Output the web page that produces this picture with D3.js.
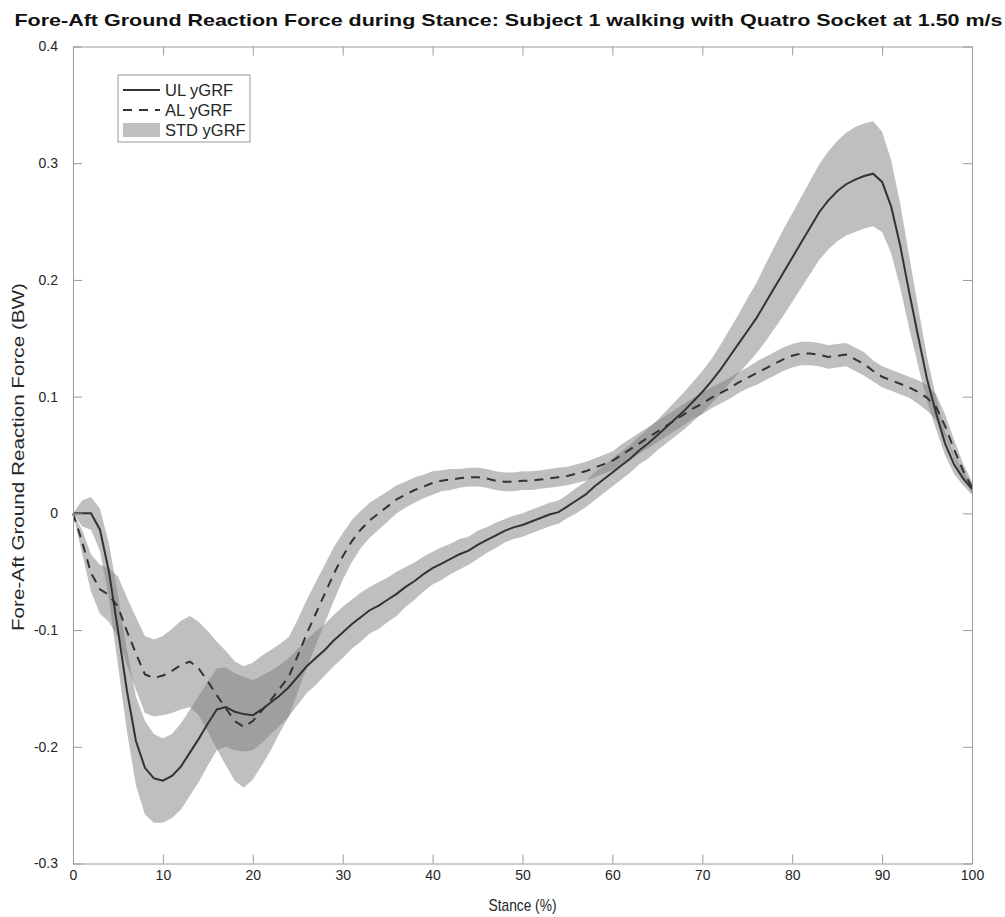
<!DOCTYPE html>
<html>
<head>
<meta charset="utf-8">
<script src="https://cdn.jsdelivr.net/npm/d3@7"></script>
<style>
    body { margin: 0; background: #fff; }
    text { font-family: "Liberation Sans", Helvetica, Arial, sans-serif; fill: #262626; }
</style>
</head>
<body>
<div id="figure"></div>
<script>
(function () {
    'use strict';

    // stance in %, one sample per percent
    let stance = d3.range(0, 101);

    // UL yGRF mean (BW)
    let ulMean = [
        0, 0, 0, -0.014, -0.050, -0.100, -0.152, -0.195, -0.218, -0.227,
        -0.229, -0.225, -0.217, -0.205, -0.193, -0.180, -0.168, -0.166, -0.170, -0.172,
        -0.173, -0.168, -0.162, -0.156, -0.149, -0.140, -0.131, -0.124, -0.117, -0.109,
        -0.102, -0.095, -0.089, -0.083, -0.079, -0.074, -0.069, -0.063, -0.058, -0.052,
        -0.047, -0.043, -0.039, -0.035, -0.032, -0.027, -0.023, -0.019, -0.015, -0.012,
        -0.010, -0.007, -0.004, -0.001, 0.001, 0.006, 0.011, 0.016, 0.023, 0.029,
        0.035, 0.041, 0.047, 0.054, 0.060, 0.067, 0.074, 0.081, 0.088, 0.096,
        0.104, 0.113, 0.123, 0.134, 0.145, 0.156, 0.167, 0.180, 0.193, 0.206,
        0.219, 0.232, 0.245, 0.258, 0.268, 0.276, 0.282, 0.286, 0.289, 0.291,
        0.284, 0.263, 0.230, 0.190, 0.152, 0.115, 0.086, 0.060, 0.042, 0.030,
        0.021
    ];
    let ulStd = [
        0, 0.011, 0.014, 0.018, 0.024, 0.030, 0.035, 0.038, 0.040, 0.038,
        0.036, 0.036, 0.037, 0.037, 0.037, 0.036, 0.035, 0.034, 0.033, 0.032,
        0.030, 0.029, 0.027, 0.026, 0.025, 0.024, 0.023, 0.023, 0.022, 0.022,
        0.022, 0.021, 0.021, 0.020, 0.020, 0.019, 0.019, 0.017, 0.016, 0.015,
        0.014, 0.014, 0.013, 0.013, 0.012, 0.012, 0.011, 0.011, 0.010, 0.010,
        0.010, 0.010, 0.010, 0.010, 0.010, 0.010, 0.011, 0.011, 0.012, 0.012,
        0.012, 0.012, 0.012, 0.012, 0.013, 0.013, 0.014, 0.015, 0.016, 0.017,
        0.018, 0.019, 0.021, 0.023, 0.025, 0.028, 0.030, 0.033, 0.035, 0.037,
        0.038, 0.039, 0.040, 0.041, 0.042, 0.043, 0.044, 0.045, 0.045, 0.045,
        0.043, 0.040, 0.036, 0.031, 0.025, 0.019, 0.014, 0.010, 0.008, 0.006,
        0.005
    ];

    // AL yGRF mean (BW)
    let alMean = [
        0, -0.024, -0.051, -0.065, -0.070, -0.080, -0.101, -0.120, -0.138, -0.141,
        -0.139, -0.135, -0.130, -0.127, -0.133, -0.144, -0.156, -0.167, -0.178, -0.183,
        -0.178, -0.169, -0.160, -0.150, -0.140, -0.122, -0.103, -0.086, -0.069, -0.052,
        -0.037, -0.024, -0.014, -0.006, 0.000, 0.006, 0.012, 0.016, 0.020, 0.023,
        0.026, 0.028, 0.029, 0.030, 0.031, 0.031, 0.030, 0.028, 0.027, 0.027,
        0.028, 0.028, 0.029, 0.030, 0.031, 0.032, 0.034, 0.036, 0.039, 0.042,
        0.045, 0.050, 0.055, 0.060, 0.065, 0.070, 0.075, 0.080, 0.085, 0.090,
        0.094, 0.099, 0.103, 0.107, 0.112, 0.116, 0.120, 0.124, 0.128, 0.132,
        0.135, 0.137, 0.137, 0.136, 0.134, 0.135, 0.136, 0.132, 0.128, 0.122,
        0.117, 0.114, 0.111, 0.108, 0.104, 0.099, 0.091, 0.075, 0.055, 0.037,
        0.022
    ];
    let alStd = [
        0, 0.010, 0.016, 0.021, 0.023, 0.026, 0.029, 0.031, 0.033, 0.033,
        0.034, 0.036, 0.038, 0.039, 0.040, 0.043, 0.046, 0.049, 0.051, 0.052,
        0.050, 0.047, 0.043, 0.038, 0.034, 0.031, 0.029, 0.027, 0.025, 0.023,
        0.020, 0.018, 0.016, 0.015, 0.014, 0.013, 0.012, 0.011, 0.011, 0.010,
        0.010, 0.009, 0.009, 0.008, 0.008, 0.008, 0.008, 0.008, 0.008, 0.008,
        0.008, 0.008, 0.008, 0.008, 0.008, 0.008, 0.008, 0.008, 0.008, 0.008,
        0.008, 0.009, 0.009, 0.009, 0.009, 0.009, 0.009, 0.009, 0.009, 0.009,
        0.009, 0.009, 0.009, 0.009, 0.009, 0.009, 0.010, 0.010, 0.010, 0.010,
        0.010, 0.010, 0.010, 0.010, 0.010, 0.010, 0.010, 0.010, 0.010, 0.009,
        0.009, 0.009, 0.009, 0.009, 0.010, 0.011, 0.011, 0.010, 0.008, 0.006,
        0.005
    ];

    let xTicks = [0, 10, 20, 30, 40, 50, 60, 70, 80, 90, 100];
    let yTicks = [-0.3, -0.2, -0.1, 0, 0.1, 0.2, 0.3, 0.4];
    let legendLabels = ['UL yGRF', 'AL yGRF', 'STD yGRF'];

    let width = 1005;
    let height = 917;
    let margin = { left: 73, right: 33, top: 46.5, bottom: 53.5 };
    let axisColor = '#9a9a9a';
    let lineColor = '#333333';

    let svg = d3.select('#figure').append('svg')
        .attr('width', width)
        .attr('height', height);

    let xScale = d3.scaleLinear()
        .domain([0, 100])
        .range([margin.left, width - margin.right]);
    let yScale = d3.scaleLinear()
        .domain([-0.3, 0.4])
        .range([height - margin.bottom, margin.top]);

    function series(mean, std) {
        return stance.map(function (s, i) {
            return { s: s, m: mean[i], sd: std[i] };
        });
    }
    let ul = series(ulMean, ulStd);
    let al = series(alMean, alStd);

    let band = d3.area()
        .x(function (d) { return xScale(d.s); })
        .y0(function (d) { return yScale(d.m - d.sd); })
        .y1(function (d) { return yScale(d.m + d.sd); });
    let line = d3.line()
        .x(function (d) { return xScale(d.s); })
        .y(function (d) { return yScale(d.m); });

    let plot = svg.append('g').attr('class', 'main-area');

    [ul, al].forEach(function (data) {
        plot.append('path')
            .datum(data)
            .attr('d', band)
            .style('fill', '#808080')
            .style('fill-opacity', 0.5)
            .style('stroke', 'none');
    });

    plot.append('path')
        .datum(ul)
        .attr('d', line)
        .style('fill', 'none')
        .style('stroke', lineColor)
        .style('stroke-width', 2);
    plot.append('path')
        .datum(al)
        .attr('d', line)
        .style('fill', 'none')
        .style('stroke', lineColor)
        .style('stroke-width', 2)
        .style('stroke-dasharray', '9,7');

    // axes, matlab style box with inward ticks
    let yFormat = function (d) { return String(+d.toFixed(1)); };
    let bottom = height - margin.bottom;
    let right = width - margin.right;

    function styleAxis(g, showText) {
        g.selectAll('.domain').style('stroke', axisColor);
        g.selectAll('.tick line').style('stroke', axisColor);
        g.selectAll('.tick text')
            .style('font-size', '14px')
            .style('fill', '#262626')
            .style('font-family', '"Liberation Sans", Helvetica, Arial, sans-serif');
        if (!showText) {
            g.selectAll('.tick text').remove();
        }
    }

    svg.append('g')
        .attr('transform', 'translate(0,' + bottom + ')')
        .call(d3.axisBottom(xScale).tickValues(xTicks).tickSize(-9).tickSizeOuter(0).tickPadding(7))
        .call(styleAxis, true);
    svg.append('g')
        .attr('transform', 'translate(0,' + margin.top + ')')
        .call(d3.axisTop(xScale).tickValues(xTicks).tickSize(-9).tickSizeOuter(0))
        .call(styleAxis, false);
    svg.append('g')
        .attr('transform', 'translate(' + margin.left + ',0)')
        .call(d3.axisLeft(yScale).tickValues(yTicks).tickFormat(yFormat).tickSize(-9).tickSizeOuter(0).tickPadding(15))
        .call(styleAxis, true);
    svg.append('g')
        .attr('transform', 'translate(' + right + ',0)')
        .call(d3.axisRight(yScale).tickValues(yTicks).tickSize(-9).tickSizeOuter(0))
        .call(styleAxis, false);

    // labels
    svg.append('text')
        .attr('x', 508.5)
        .attr('y', 26)
        .attr('text-anchor', 'middle')
        .attr('textLength', 988)
        .attr('lengthAdjust', 'spacingAndGlyphs')
        .style('font-size', '17px')
        .style('font-weight', 'bold')
        .style('fill', '#111')
        .text('Fore-Aft Ground Reaction Force during Stance: Subject 1 walking with Quatro Socket at 1.50 m/s');

    svg.append('text')
        .attr('x', (margin.left + right) / 2)
        .attr('y', 911)
        .attr('text-anchor', 'middle')
        .attr('textLength', 68)
        .attr('lengthAdjust', 'spacingAndGlyphs')
        .style('font-size', '17px')
        .text('Stance (%)');

    svg.append('text')
        .attr('transform', 'translate(24,' + 457 + ') rotate(-90)')
        .attr('text-anchor', 'middle')
        .attr('textLength', 348)
        .attr('lengthAdjust', 'spacingAndGlyphs')
        .style('font-size', '17px')
        .text('Fore-Aft Ground Reaction Force (BW)');

    // legend
    let legend = svg.append('g').attr('transform', 'translate(118,75)');
    legend.append('rect')
        .attr('width', 132)
        .attr('height', 67)
        .style('fill', '#fff')
        .style('stroke', axisColor)
        .style('stroke-width', 1);
    legendLabels.forEach(function (label, i) {
        let cy = 15 + i * 20;
        if (i < 2) {
            legend.append('line')
                .attr('x1', 5).attr('x2', 42)
                .attr('y1', cy).attr('y2', cy)
                .style('stroke', lineColor)
                .style('stroke-width', 2)
                .style('stroke-dasharray', i === 1 ? '9,7' : null);
        } else {
            legend.append('rect')
                .attr('x', 5).attr('y', cy - 7)
                .attr('width', 37).attr('height', 14)
                .style('fill', '#808080')
                .style('fill-opacity', 0.5);
        }
        legend.append('text')
            .attr('x', 47)
            .attr('y', cy + 6)
            .style('font-size', '16.5px')
            .text(label);
    });
})();
</script>
</body>
</html>
